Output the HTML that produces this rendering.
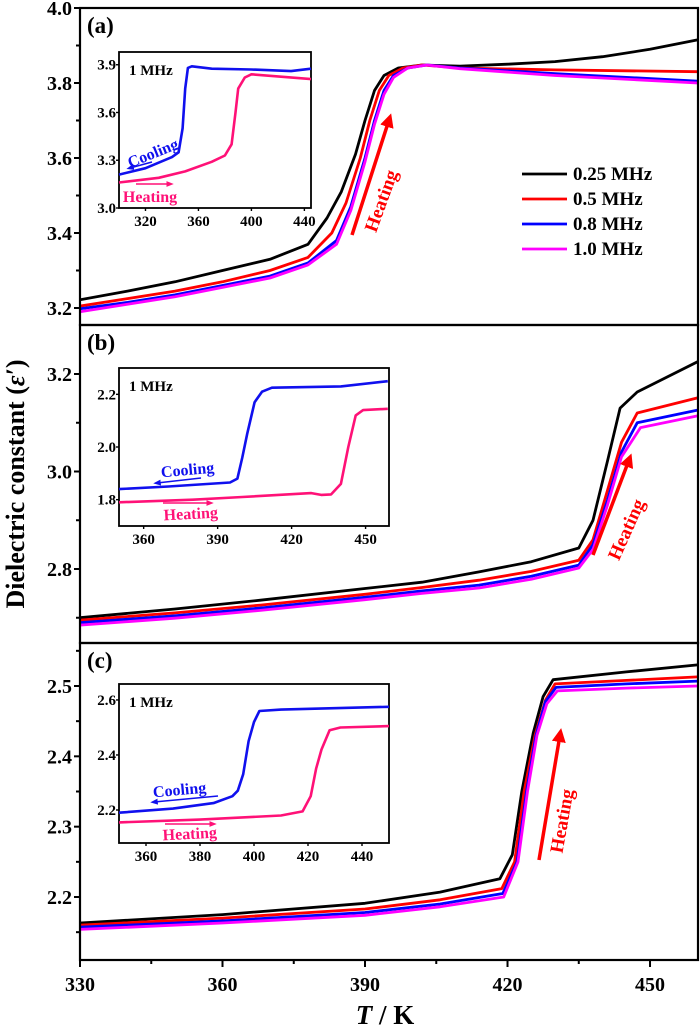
<!DOCTYPE html>
<html><head><meta charset="utf-8">
<style>
html,body{margin:0;padding:0;background:#fff;}
svg{display:block;font-family:"Liberation Serif",serif;font-weight:bold;}
</style></head>
<body>
<svg id="chart" width="700" height="1030" viewBox="0 0 700 1030" xmlns="http://www.w3.org/2000/svg"></svg>
<script>
// ---- shared x axis ----
const xTicks = [330, 360, 390, 420, 450];
const seriesLabels = ["0.25 MHz", "0.5 MHz", "0.8 MHz", "1.0 MHz"];
const seriesColors = ["#000000", "#ff0000", "#0000ff", "#ff00ff"];

// ---- panel (a) main data [T, eps] ----
const aBlack = [[330,3.222],[340,3.245],[350,3.27],[360,3.30],[370,3.33],[378,3.37],[382,3.44],[385,3.51],[388,3.61],[390,3.70],[392,3.78],[394,3.82],[397,3.84],[402,3.848],[410,3.845],[420,3.85],[430,3.857],[440,3.87],[450,3.89],[460,3.915]];
const aRed = [[330,3.205],[340,3.225],[350,3.245],[360,3.27],[370,3.30],[378,3.335],[383,3.40],[386,3.48],[389,3.60],[391,3.70],[393,3.78],[395,3.82],[398,3.84],[402,3.848],[410,3.84],[430,3.835],[460,3.83]];
const aBlue = [[330,3.198],[340,3.215],[350,3.235],[360,3.26],[370,3.285],[378,3.32],[384,3.38],[387,3.47],[390,3.60],[392,3.70],[394,3.78],[396,3.82],[399,3.84],[403,3.848],[410,3.84],[430,3.825],[460,3.805]];
const aMag = [[330,3.19],[340,3.21],[350,3.23],[360,3.255],[370,3.28],[378,3.315],[384,3.37],[387,3.46],[390,3.59],[392,3.69],[394,3.77],[396,3.815],[399,3.84],[403,3.848],[410,3.838],[430,3.82],[460,3.80]];
const aYTicks = [3.2, 3.4, 3.6, 3.8, 4.0];
// inset (a)
const aInCool = [[300,3.21],[320,3.25],[340,3.32],[345,3.35],[348,3.50],[350,3.75],[352,3.88],[355,3.89],[370,3.875],[400,3.87],[430,3.86],[445,3.875]];
const aInHeat = [[300,3.16],[330,3.19],[350,3.23],[370,3.29],[380,3.33],[385,3.40],[388,3.60],[390,3.75],[395,3.82],[400,3.84],[445,3.81]];
const aInX = [320, 360, 400, 440];
const aInY = [3.0, 3.3, 3.6, 3.9];

// ---- panel (b) ----
const bBlack = [[330,2.70],[350,2.718],[368,2.736],[390,2.76],[402,2.773],[414,2.794],[425,2.815],[435,2.843],[438,2.90],[441,3.02],[443.7,3.13],[447.3,3.163],[460,3.225]];
const bRed = [[330,2.695],[350,2.71],[368,2.726],[390,2.748],[402,2.762],[414,2.777],[425,2.795],[435,2.818],[438,2.86],[441,2.96],[444,3.06],[447.3,3.12],[460,3.151]];
const bBlue = [[330,2.69],[350,2.704],[368,2.72],[390,2.742],[402,2.755],[414,2.767],[425,2.785],[435,2.808],[438,2.85],[441,2.94],[444,3.04],[447.3,3.10],[460,3.126]];
const bMag = [[330,2.685],[350,2.699],[368,2.715],[390,2.737],[402,2.75],[414,2.761],[425,2.779],[435,2.802],[438,2.84],[441,2.93],[444,3.03],[448,3.09],[460,3.114]];
const bYTicks = [2.8, 3.0, 3.2];
const bInCool = [[350,1.84],[370,1.85],[395,1.865],[398,1.88],[400,1.96],[402,2.05],[405,2.17],[408,2.21],[412,2.225],[440,2.23],[459,2.25]];
const bInHeat = [[350,1.79],[380,1.80],[400,1.81],[428,1.825],[432,1.818],[436,1.82],[440,1.86],[443,2.0],[446,2.12],[449,2.14],[459,2.145]];
const bInX = [360, 390, 420, 450];
const bInY = [1.8, 2.0, 2.2];

// ---- panel (c) ----
const cBlack = [[330,2.163],[360,2.175],[390,2.191],[405.8,2.207],[418.4,2.226],[421,2.26],[423,2.35],[425.4,2.433],[427.5,2.485],[429.6,2.509],[445,2.52],[460,2.53]];
const cRed = [[330,2.16],[360,2.17],[390,2.183],[405.8,2.196],[418.8,2.212],[421.5,2.25],[423.5,2.35],[425.8,2.43],[428,2.48],[430,2.503],[445,2.508],[460,2.513]];
const cBlue = [[330,2.157],[360,2.166],[390,2.178],[405.8,2.19],[419,2.205],[422,2.25],[424,2.35],[426,2.43],[428,2.478],[430.2,2.498],[445,2.503],[460,2.507]];
const cMag = [[330,2.154],[360,2.163],[390,2.174],[405.8,2.186],[419.2,2.2],[422.2,2.25],[424.2,2.35],[426.2,2.43],[428.3,2.475],[430.5,2.493],[445,2.497],[460,2.50]];
const cYTicks = [2.2, 2.3, 2.4, 2.5];
const cInCool = [[350,2.19],[370,2.205],[385,2.225],[392,2.25],[394,2.27],[396,2.33],[398,2.45],[400,2.52],[402,2.56],[410,2.565],[450,2.575]];
const cInHeat = [[350,2.155],[380,2.165],[410,2.18],[418,2.195],[421,2.25],[423,2.35],[425,2.42],[428,2.49],[432,2.5],[450,2.505]];
const cInX = [360, 380, 400, 420, 440];
const cInY = [2.2, 2.4, 2.6];

const NS = "http://www.w3.org/2000/svg";
const svg = document.getElementById("chart");
function mk(tag, attrs, parent) {
  const e = document.createElementNS(NS, tag);
  for (const k in attrs) e.setAttribute(k, attrs[k]);
  (parent || svg).appendChild(e);
  return e;
}
const X0 = 80, X1 = 698, T0 = 330, T1 = 460.1;
function xMain(t) { return X0 + (t - T0) * (X1 - X0) / (T1 - T0); }
function linY(v0, y0, v1, y1) { return v => y0 + (v - v0) * (y1 - y0) / (v1 - v0); }

const panels = [
  {id:"a", top:8, bot:325, y: linY(3.2,308,4.0,8), ticks:aYTicks, minor:[3.3,3.5,3.7,3.9], data:[aBlack,aRed,aBlue,aMag],
   inset:{x0:119,x1:311,y0:52,y1:208,t0:300,t1:445,v0:3.0,v1:3.98, cool:aInCool, heat:aInHeat, xt:aInX, yt:aInY}},
  {id:"b", top:325, bot:643, y: linY(2.8,569,3.2,374), ticks:bYTicks, minor:[2.7,2.9,3.1], data:[bBlack,bRed,bBlue,bMag],
   inset:{x0:119,x1:389,y0:368,y1:526,t0:350,t1:459.5,v0:1.7,v1:2.3, cool:bInCool, heat:bInHeat, xt:bInX, yt:bInY}},
  {id:"c", top:643, bot:960, y: linY(2.2,897,2.5,686), ticks:cYTicks, minor:[2.15,2.25,2.35,2.45,2.55], data:[cBlack,cRed,cBlue,cMag],
   inset:{x0:119,x1:389,y0:684,y1:843,t0:350,t1:450,v0:2.08,v1:2.658, cool:cInCool, heat:cInHeat, xt:cInX, yt:cInY}}
];

panels.forEach(p => {
  const g = mk("g", {});
  
  
  const clipId = "clip" + p.id;
  const cp = mk("clipPath", {id: clipId}, g);
  mk("rect", {x: X0, y: p.top, width: X1 - X0, height: p.bot - p.top}, cp);
  p.data.forEach((d, i) => {
    const pts = d.map(q => xMain(q[0]).toFixed(1) + "," + p.y(q[1]).toFixed(1)).join(" ");
    const pl = mk("polyline", {points: pts, fill: "none", stroke: seriesColors[i], "stroke-width": 2.8, "stroke-linejoin": "round", "clip-path": "url(#" + clipId + ")"}, g);
    
    
  });
  const fr = mk("rect", {x: X0, y: p.top, width: X1 - X0, height: p.bot - p.top, fill: "none", stroke: "#000", "stroke-width": 2.2}, g);
  
  
  p.ticks.forEach(v => {
    const yy = p.y(v);
    mk("line", {x1: X0 - 6, x2: X0, y1: yy, y2: yy, stroke: "#000", "stroke-width": 2}, g);
    const t = mk("text", {x: 72, y: yy + 7, "text-anchor": "end", "font-size": 20}, g);
    t.textContent = v.toFixed(1);
    
    
  });
  p.minor.forEach(v => {
    const yy = p.y(v);
    if (yy > p.top + 1 && yy < p.bot - 1) mk("line", {x1: X0 - 4, x2: X0, y1: yy, y2: yy, stroke: "#000", "stroke-width": 2}, g);
  });
  const pl = mk("text", {x: 87, y: p.top + 25, "font-size": 23}, g);
  pl.textContent = "(" + p.id + ")";
  
  
  const I = p.inset;
  const ix = t => I.x0 + (t - I.t0) * (I.x1 - I.x0) / (I.t1 - I.t0);
  const iy = v => I.y1 - (v - I.v0) * (I.y1 - I.y0) / (I.v1 - I.v0);
  const ig = mk("g", {}, g);
  
  
  mk("rect", {x: I.x0, y: I.y0, width: I.x1 - I.x0, height: I.y1 - I.y0, fill: "#fff", stroke: "#000", "stroke-width": 1.8}, ig);
  [[I.cool, "#1010ee"], [I.heat, "#ff1177"]].forEach((s, k) => {
    const pts = s[0].map(q => ix(q[0]).toFixed(1) + "," + iy(q[1]).toFixed(1)).join(" ");
    const l = mk("polyline", {points: pts, fill: "none", stroke: s[1], "stroke-width": 2.6, "stroke-linejoin": "round"}, ig);
    
    
  });
  I.xt.forEach(t => {
    const xx = ix(t);
    mk("line", {x1: xx, x2: xx, y1: I.y1, y2: I.y1 + 3, stroke: "#000", "stroke-width": 1.4}, ig);
    const tx = mk("text", {x: xx, y: I.y1 + 18, "text-anchor": "middle", "font-size": 15}, ig);
    tx.textContent = t;
    
    
  });
  I.yt.forEach(v => {
    const yy = iy(v);
    mk("line", {x1: I.x0 - 3, x2: I.x0, y1: yy, y2: yy, stroke: "#000", "stroke-width": 1.4}, ig);
    const tx = mk("text", {x: I.x0 - 3, y: yy + 5, "text-anchor": "end", "font-size": 15}, ig);
    tx.textContent = v.toFixed(1);
    
    
  });
  const mh = mk("text", {x: I.x0 + 10, y: I.y0 + 23, "font-size": 15}, ig);
  mh.textContent = "1 MHz";
  
  
});

xTicks.forEach(t => {
  const xx = xMain(t);
  mk("line", {x1: xx, x2: xx, y1: 960, y2: 967, stroke: "#000", "stroke-width": 2});
  const tx = mk("text", {x: xx, y: 991, "text-anchor": "middle", "font-size": 20});
  tx.textContent = t;
  
  
});
[345, 375, 405, 435].forEach(t => { const xx = xMain(t); mk("line", {x1: xx, x2: xx, y1: 960, y2: 964, stroke: "#000", "stroke-width": 2}); });
</script>

<svg width="700" height="1030" style="position:absolute;left:0;top:0;font-family:'Liberation Serif',serif;font-weight:bold">
  <defs>
    <marker id="ah" viewBox="0 0 10 10" refX="5" refY="5" markerWidth="4" markerHeight="4" orient="auto"><path d="M0,0 L10,5 L0,10 z" fill="#ff0000"/></marker>
    <marker id="ahb" viewBox="0 0 10 10" refX="5" refY="5" markerWidth="5" markerHeight="5" orient="auto"><path d="M0,1 L10,5 L0,9 z" fill="#1010ee"/></marker>
    <marker id="ahp" viewBox="0 0 10 10" refX="5" refY="5" markerWidth="5" markerHeight="5" orient="auto"><path d="M0,1 L10,5 L0,9 z" fill="#ff1177"/></marker>
  </defs>
  <text x="24" y="484" transform="rotate(-90 24 484)" text-anchor="middle" font-size="26">Dielectric constant (<tspan font-style="italic">ε′</tspan>)</text>
  <text x="385" y="1024" text-anchor="middle" font-size="27"><tspan font-style="italic">T</tspan> / K</text>

  <g font-size="19">
    <line x1="522" x2="567" y1="174" y2="174" stroke="#000" stroke-width="2.8"/><text x="573" y="180">0.25 MHz</text>
    <line x1="522" x2="567" y1="199" y2="199" stroke="#ff0000" stroke-width="2.8"/><text x="573" y="205">0.5 MHz</text>
    <line x1="522" x2="567" y1="224" y2="224" stroke="#0000ff" stroke-width="2.8"/><text x="573" y="230">0.8 MHz</text>
    <line x1="522" x2="567" y1="249" y2="249" stroke="#ff00ff" stroke-width="2.8"/><text x="573" y="255">1.0 MHz</text>
  </g>

  <g>
    <line x1="352" y1="235" x2="389" y2="120" stroke="#ff0000" stroke-width="3.5" marker-end="url(#ah)"/>
    <text x="387" y="203" transform="rotate(-70 387 203)" text-anchor="middle" font-size="19" fill="#ff0000">Heating</text>
  </g>
  <g>
    <line x1="593" y1="555" x2="629" y2="460" stroke="#ff0000" stroke-width="3.5" marker-end="url(#ah)"/>
    <text x="632" y="532" transform="rotate(-66 632 532)" text-anchor="middle" font-size="19" fill="#ff0000">Heating</text>
  </g>
  <g>
    <line x1="539" y1="860" x2="560" y2="735" stroke="#ff0000" stroke-width="3.5" marker-end="url(#ah)"/>
    <text x="568" y="822" transform="rotate(-80 568 822)" text-anchor="middle" font-size="19" fill="#ff0000">Heating</text>
  </g>

  <g font-size="16">
    <text x="155" y="158" transform="rotate(-22 155 158)" text-anchor="middle" fill="#1010ee">Cooling</text>
    <line x1="152" y1="162" x2="130" y2="168" stroke="#1010ee" stroke-width="1.5" marker-end="url(#ahb)"/>
    <line x1="136" y1="184" x2="170" y2="184" stroke="#ff1177" stroke-width="1.5" marker-end="url(#ahp)"/>
    <text x="150" y="202" text-anchor="middle" fill="#ff1177">Heating</text>
  </g>
  <g font-size="16">
    <text x="188" y="475" transform="rotate(-5 188 475)" text-anchor="middle" fill="#1010ee">Cooling</text>
    <line x1="201" y1="478" x2="157" y2="483" stroke="#1010ee" stroke-width="1.5" marker-end="url(#ahb)"/>
    <line x1="163" y1="503" x2="210" y2="503" stroke="#ff1177" stroke-width="1.5" marker-end="url(#ahp)"/>
    <text x="191" y="519" transform="rotate(-3 191 519)" text-anchor="middle" fill="#ff1177">Heating</text>
  </g>
  <g font-size="16">
    <text x="180" y="795" transform="rotate(-5 180 795)" text-anchor="middle" fill="#1010ee">Cooling</text>
    <line x1="218" y1="796" x2="154" y2="802" stroke="#1010ee" stroke-width="1.5" marker-end="url(#ahb)"/>
    <line x1="165" y1="824" x2="213" y2="824" stroke="#ff1177" stroke-width="1.5" marker-end="url(#ahp)"/>
    <text x="190" y="839" transform="rotate(-3 190 839)" text-anchor="middle" fill="#ff1177">Heating</text>
  </g>
</svg>
</body></html>
